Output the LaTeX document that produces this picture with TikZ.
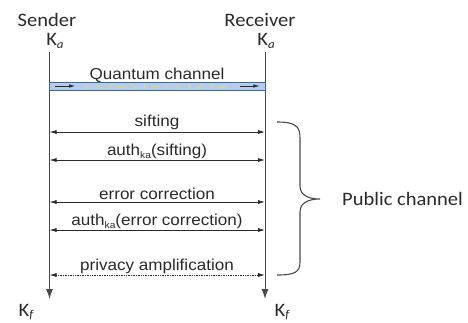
\documentclass[tikz,border=0pt]{standalone}
\usepackage{fontspec}
\setmainfont{Liberation Sans}[FakeStretch=1.08]
\newfontfamily\calfont{Carlito}[FakeStretch=1.08]
\usetikzlibrary{arrows.meta}
\definecolor{ink}{HTML}{2A2A2A}
\definecolor{lifegray}{HTML}{4A4A4A}
\definecolor{qfill}{HTML}{B3CDEA}
\definecolor{qedge}{HTML}{3F63A3}
\definecolor{qyellow}{HTML}{E6DC6A}
\tikzset{
  x=1pt, y=-1pt,
  actor/.style={font=\calfont\fontsize{19}{22}\selectfont, text=ink, inner sep=0pt},
  keylabel/.style={font=\calfont\fontsize{19}{22}\selectfont, text=ink, inner sep=0pt},
  msglabel/.style={font=\fontsize{15.8}{18}\selectfont, text=ink, inner sep=0pt},
  lifeline/.style={draw=lifegray, line width=1pt, -{Latex[length=10pt,width=7pt]}},
  msg/.style={draw=ink, line width=0.8pt, {Latex[length=7pt,width=4pt]}-{Latex[length=7pt,width=4pt]}},
  dottedmsg/.style={msg, dash pattern=on 1pt off 0.7pt},
  photon/.style={draw=qyellow, line width=0.7pt},
  brace/.style={draw=lifegray, line width=1.1pt},
}
\newcommand{\keysub}[2]{K\raisebox{-0.25ex}{\fontsize{12}{12}\selectfont\itshape #2}}
\newcommand{\ka}{\raisebox{-0.4ex}{\fontsize{9.5}{10}\selectfont ka}}
\begin{document}
\begin{tikzpicture}
\useasboundingbox (0,0) rectangle (468,322);

% actors and initial keys
\node[actor] (sender) at (47,20) {Sender};
\node[actor] (receiver) at (260,20) {Receiver};
\node[keylabel] (ka1) at (55,41) {\keysub{K}{a}};
\node[keylabel] (ka2) at (266,41) {\keysub{K}{a}};

% lifelines
\coordinate (stop) at (49.5,52);
\coordinate (rtop) at (265,52);
\coordinate (send) at (49.5,299);
\coordinate (rend) at (265,299);
\draw[lifeline] (stop) -- (send);
\draw[lifeline] (rtop) -- (rend);

% final keys
\node[keylabel] (kf1) at (26,312) {\keysub{K}{f}};
\node[keylabel] (kf2) at (282,312) {\keysub{K}{f}};

% quantum channel
\node[draw=qedge, fill=qfill, line width=0.8pt, minimum width=215.5pt, minimum height=8pt, inner sep=0pt] (qbar) at (157.25,86) {};
\node[msglabel] (qlabel) at (157,75) {Quantum channel};
\draw[ink, line width=0.7pt, -{Latex[length=6pt,width=3.5pt]}] (qbar.west) ++(6,0) -- ++(20,0);
\draw[ink, line width=0.7pt, -{Latex[length=6pt,width=3.5pt]}] (qbar.east) ++(-25,0) -- ++(19,0);
% polarised photons along the channel: vertical, horizontal, diagonal, antidiagonal
\foreach \px in {86,144,166,189}
  \draw[photon] (\px,83.5) -- (\px,88.5);
\foreach \px in {121,155,223}
  \draw[photon] (\px-4,86) -- (\px+4,86);
\foreach \px in {110,178,200}
  \draw[photon] (\px-3.5,88.5) -- (\px+3.5,83.5);
\foreach \px in {99,133,212}
  \draw[photon] (\px-3.5,83.5) -- (\px+3.5,88.5);

% public-channel messages
\coordinate (s1) at (49.5,132); \coordinate (r1) at (265,132);
\coordinate (s2) at (49.5,160); \coordinate (r2) at (265,160);
\coordinate (s3) at (49.5,202); \coordinate (r3) at (265,202);
\coordinate (s4) at (49.5,230); \coordinate (r4) at (265,230);
\coordinate (s5) at (49.5,275); \coordinate (r5) at (265,275);
\draw[msg] (s1) -- (r1);
\draw[msg] (s2) -- (r2);
\draw[msg] (s3) -- (r3);
\draw[msg] (s4) -- (r4);
\draw[dottedmsg] (s5) -- (r5);
\node[msglabel] (l1) at (157,122) {sifting};
\node[msglabel] (l2) at (157,151) {auth\ka(sifting)};
\node[msglabel] (l3) at (157,194) {error correction};
\node[msglabel] (l4) at (157,221) {auth\ka(error correction)};
\node[msglabel] (l5) at (157,266) {privacy amplification};

% brace grouping the public channel
\coordinate (btop) at (277,122);
\coordinate (btip) at (320,199);
\coordinate (bbot) at (277,275);
\draw[brace] (btop) .. controls (295,122) and (300,126) .. (300,138)
  -- (300,186) .. controls (300,195) and (308,199) .. (btip)
  .. controls (308,199) and (300,203) .. (300,212)
  -- (300,262) .. controls (300,272) and (295,275) .. (bbot);
\node[actor, anchor=west] (public) at (342,199) {Public channel};
\end{tikzpicture}
\end{document}
